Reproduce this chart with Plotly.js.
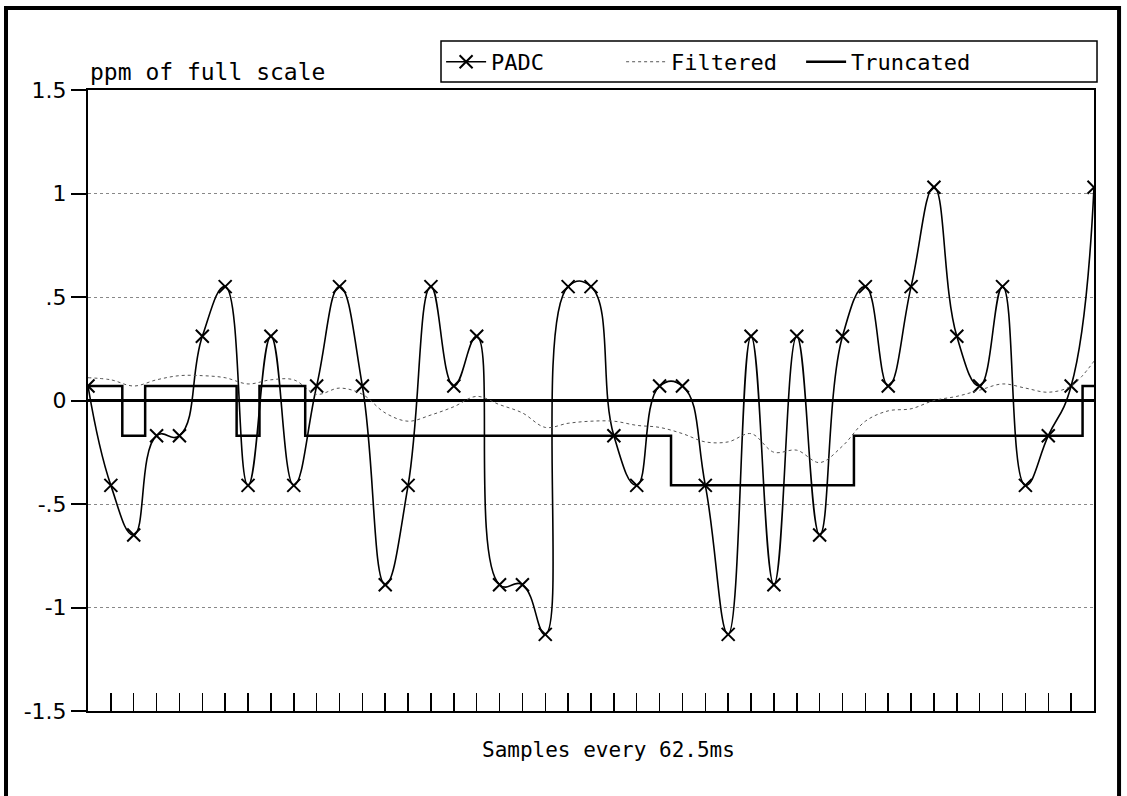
<!DOCTYPE html>
<html>
<head>
<meta charset="utf-8">
<script src="https://cdn.plot.ly/plotly-3.0.1.min.js"></script>
<style>html,body{margin:0;padding:0;background:#fff;}#chart{width:1127px;height:796px;}</style>
</head>
<body>
<div id="chart"></div>
<script>
// Sample index (one sample every 62.5 ms)
const samples = [0,1,2,3,4,5,6,7,8,9,10,11,12,13,14,15,16,17,18,19,20,21,22,23,24,25,26,27,28,29,30,31,32,33,34,35,36,37,38,39,40,41,42,43,44];

// PADC output (ppm of full scale)
const padc = [0.07,-0.41,-0.65,-0.17,-0.17,0.31,0.55,-0.41,0.31,-0.41,
              0.07,0.55,0.07,-0.89,-0.41,0.55,0.07,0.31,-0.89,-0.89,
              -1.13,0.55,0.55,-0.17,-0.41,0.07,0.07,-0.41,-1.13,0.31,
              -0.89,0.31,-0.65,0.31,0.55,0.07,0.55,1.03,0.31,0.07,
              0.55,-0.41,-0.17,0.07,1.03];

// Filtered signal
const filtered = [0.11,0.10,0.07,0.10,0.12,0.12,0.11,0.08,0.10,0.10,
                  0.03,0.06,0.03,-0.06,-0.10,-0.07,-0.03,0.02,-0.02,-0.06,
                  -0.13,-0.11,-0.10,-0.10,-0.12,-0.13,-0.16,-0.20,-0.20,-0.16,
                  -0.25,-0.24,-0.30,-0.22,-0.10,-0.05,-0.04,0.00,0.02,0.05,
                  0.08,0.06,0.04,0.07,0.19];

// Truncated signal
const truncated = [0.07,0.07,-0.17,0.07,0.07,0.07,0.07,-0.17,0.07,0.07,
                   -0.17,-0.17,-0.17,-0.17,-0.17,-0.17,-0.17,-0.17,-0.17,-0.17,
                   -0.17,-0.17,-0.17,-0.17,-0.17,-0.17,-0.41,-0.41,-0.41,-0.41,
                   -0.41,-0.41,-0.41,-0.41,-0.17,-0.17,-0.17,-0.17,-0.17,-0.17,
                   -0.17,-0.17,-0.17,-0.17,0.07];

const yTickVals = [-1.5,-1,-0.5,0,0.5,1,1.5];
const yTickText = ['-1.5','-1','-.5','0','.5','1','1.5'];
const seriesNames = ['PADC','Filtered','Truncated'];
const yTitle = 'ppm of full scale';
const xTitle = 'Samples every 62.5ms';

const FONT = 'DejaVu Sans, Liberation Sans, sans-serif';
const MONO = 'DejaVu Sans Mono, Liberation Mono, monospace';

const traces = [
  {x: samples, y: padc, name: seriesNames[0], type: 'scatter', mode: 'lines+markers',
   line: {color: '#000', width: 1.6, shape: 'spline', smoothing: 1.3},
   marker: {symbol: 'x-thin', size: 13, line: {color: '#000', width: 2}}},
  {x: samples, y: filtered, name: seriesNames[1], type: 'scatter', mode: 'lines',
   line: {color: '#555', width: 1, dash: 'dot', shape: 'spline', smoothing: 1}},
  {x: samples, y: truncated, name: seriesNames[2], type: 'scatter', mode: 'lines',
   line: {color: '#000', width: 2.5, shape: 'hvh'}}
];

const layout = {
  width: 1127, height: 796,
  margin: {l: 88, r: 33, t: 90, b: 85},
  paper_bgcolor: '#fff', plot_bgcolor: '#fff',
  font: {family: FONT, size: 20, color: '#000'},
  showlegend: true,
  legend: {
    orientation: 'h', x: 0.351, y: 1.079, xanchor: 'left', yanchor: 'top',
    borderwidth: 0, bgcolor: 'rgba(0,0,0,0)',
    itemwidth: 40, entrywidth: 125, entrywidthmode: 'pixels', traceorder: 'normal',
    font: {family: MONO, size: 22, color: '#000'}
  },
  xaxis: {
    range: [0, 44], showgrid: false, zeroline: false,
    showline: true, linecolor: '#000', linewidth: 2, mirror: true,
    ticks: 'inside', ticklen: 18, tickwidth: 1.5, tickcolor: '#000',
    tick0: 0, dtick: 1, showticklabels: false
  },
  yaxis: {
    range: [-1.5, 1.5], tickvals: yTickVals, ticktext: yTickText,
    showgrid: true, gridcolor: '#888', griddash: 'dot', gridwidth: 1,
    zeroline: true, zerolinecolor: '#000', zerolinewidth: 3,
    showline: true, linecolor: '#000', linewidth: 2, mirror: true,
    ticks: 'outside', ticklen: 15, tickwidth: 2, tickcolor: '#000',
    tickfont: {family: FONT, size: 22, color: '#000'}
  },
  annotations: [
    {text: yTitle, xref: 'paper', yref: 'paper', x: 0.0, y: 1.029, xanchor: 'left', yanchor: 'middle',
     showarrow: false, font: {family: MONO, size: 23, color: '#000'}},
    {text: xTitle, xref: 'paper', yref: 'paper', x: 0.517, y: -0.063, xanchor: 'center', yanchor: 'middle',
     showarrow: false, font: {family: MONO, size: 21, color: '#000'}}
  ],
  shapes: [
    // outer frame
    {type: 'rect', xref: 'paper', yref: 'paper', x0: -0.0815, x1: 1.0249, y0: -0.16, y1: 1.132,
     line: {color: '#000', width: 4}, fillcolor: 'rgba(0,0,0,0)'},
    // legend frame
    {type: 'rect', xref: 'paper', yref: 'paper', x0: 0.3509, x1: 1.003, y0: 1.0129, y1: 1.0789,
     line: {color: '#000', width: 1.5}, fillcolor: 'rgba(0,0,0,0)'}
  ]
};

Plotly.newPlot('chart', traces, layout, {displayModeBar: false, staticPlot: true});
</script>
</body>
</html>
